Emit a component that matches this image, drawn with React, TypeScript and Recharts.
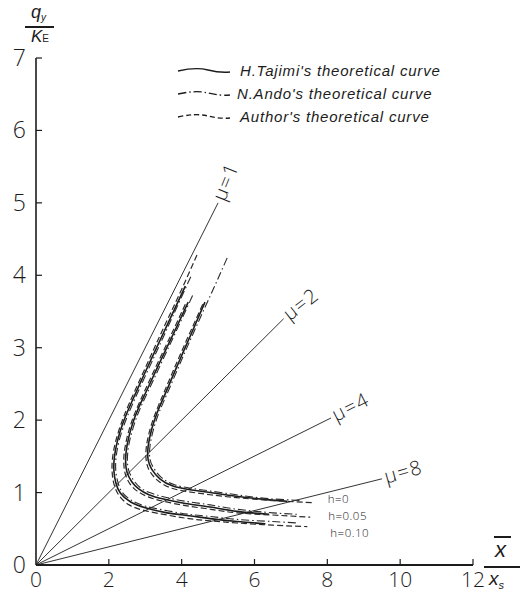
import React from 'react';
import { LineChart, Line, XAxis, YAxis } from 'recharts';

type Pt = { x: number; y: number };

const xTicks = [0, 2, 4, 6, 8, 10, 12];
const yTicks = [0, 1, 2, 3, 4, 5, 6, 7];

const muNames = ['μ=1', 'μ=2', 'μ=4', 'μ=8'];
const mu1 = [[0, 0], [5.0, 5.0]];
const mu2 = [[0, 0], [6.8, 3.4]];
const mu4 = [[0, 0], [8.1, 2.03]];
const mu8 = [[0, 0], [9.5, 1.19]];

const hNames = ['h=0', 'h=0.05', 'h=0.10'];
const seriesNames = ["H.Tajimi's theoretical curve", "N.Ando's theoretical curve", "Author's theoretical curve"];

// h = 0
const tajimiH0 = [[4.64, 3.63], [4.27, 3.2], [3.92, 2.8], [3.58, 2.4], [3.34, 2.12], [3.18, 1.88], [3.08, 1.64], [3.08, 1.45], [3.18, 1.32], [3.4, 1.19], [3.76, 1.09], [4.23, 1.04], [4.78, 1.0], [5.5, 0.95], [6.2, 0.91], [6.9, 0.88]];
const andoH0 = [[5.25, 4.24], [4.95, 3.9], [4.66, 3.58], [4.32, 3.2], [3.97, 2.8], [3.63, 2.4], [3.39, 2.12], [3.23, 1.88], [3.13, 1.64], [3.13, 1.46], [3.23, 1.34], [3.44, 1.21], [3.79, 1.11], [4.25, 1.06], [4.8, 1.02], [5.5, 0.97], [6.3, 0.92], [7.3, 0.89]];
const authorH0 = [[4.58, 3.6], [4.22, 3.2], [3.87, 2.8], [3.53, 2.4], [3.29, 2.11], [3.13, 1.87], [3.03, 1.63], [3.03, 1.43], [3.13, 1.29], [3.36, 1.16], [3.73, 1.06], [4.2, 1.01], [4.78, 0.97], [5.5, 0.93], [6.5, 0.89], [7.6, 0.86]];

// h = 0.05
const tajimiH05 = [[4.18, 3.63], [3.8, 3.22], [3.42, 2.82], [3.05, 2.42], [2.8, 2.15], [2.62, 1.9], [2.5, 1.65], [2.46, 1.45], [2.5, 1.28], [2.63, 1.15], [2.82, 1.05], [3.1, 0.97], [3.5, 0.91], [4.1, 0.85], [4.78, 0.8], [5.52, 0.74], [6.4, 0.7]];
const andoH05 = [[4.3, 3.72], [3.86, 3.24], [3.47, 2.82], [3.1, 2.42], [2.85, 2.15], [2.67, 1.9], [2.55, 1.66], [2.51, 1.46], [2.55, 1.3], [2.68, 1.17], [2.86, 1.07], [3.12, 1.0], [3.52, 0.94], [4.1, 0.88], [4.78, 0.83], [5.52, 0.77], [6.5, 0.72], [7.2, 0.7]];
const authorH05 = [[4.1, 3.6], [3.75, 3.22], [3.37, 2.82], [3.0, 2.42], [2.75, 2.14], [2.57, 1.89], [2.45, 1.64], [2.41, 1.44], [2.45, 1.26], [2.58, 1.12], [2.78, 1.02], [3.08, 0.94], [3.5, 0.88], [4.1, 0.82], [4.78, 0.77], [5.52, 0.72], [6.5, 0.69], [7.53, 0.66]];

// h = 0.10
const tajimiH10 = [[4.1, 3.85], [3.7, 3.42], [3.33, 3.02], [2.96, 2.62], [2.6, 2.22], [2.38, 1.95], [2.23, 1.7], [2.15, 1.48], [2.14, 1.3], [2.19, 1.14], [2.32, 0.99], [2.6, 0.87], [3.0, 0.79], [3.6, 0.72], [4.2, 0.68], [4.78, 0.64], [5.52, 0.6], [6.3, 0.57]];
const andoH10 = [[4.25, 3.98], [3.76, 3.44], [3.38, 3.02], [3.01, 2.62], [2.65, 2.22], [2.43, 1.95], [2.28, 1.71], [2.2, 1.49], [2.19, 1.31], [2.24, 1.16], [2.36, 1.01], [2.63, 0.89], [3.02, 0.81], [3.6, 0.75], [4.2, 0.7], [4.78, 0.67], [5.52, 0.63], [6.5, 0.6], [7.2, 0.58]];
const authorH10 = [[4.42, 4.28], [4.03, 3.84], [3.64, 3.42], [3.27, 3.02], [2.91, 2.62], [2.55, 2.22], [2.33, 1.94], [2.18, 1.69], [2.1, 1.47], [2.09, 1.29], [2.14, 1.12], [2.28, 0.96], [2.56, 0.83], [3.0, 0.75], [3.6, 0.69], [4.2, 0.64], [4.78, 0.61], [5.52, 0.58], [6.5, 0.55], [7.45, 0.53]];

const toPts = (a: number[][]): Pt[] => a.map(([x, y]) => ({ x, y }));

const INK = '#1c1c1c';
const TICK_FONT = "'Open Sans', 'DejaVu Sans', sans-serif";
const HAND_FONT = "'Liberation Sans', 'DejaVu Sans', sans-serif";

const XTick = (props: any) => {
  const { x, y, payload } = props;
  return (
    <g>
      {payload.value !== 0 && <line x1={x} y1={y} x2={x} y2={y - 6} stroke={INK} strokeWidth={1.2} />}
      <text x={x} y={y + 22} textAnchor="middle" fontFamily={TICK_FONT} fontWeight={300} fontSize={21} fill={INK}>
        {payload.value}
      </text>
    </g>
  );
};

const YTick = (props: any) => {
  const { x, y, payload } = props;
  return (
    <g>
      {payload.value !== 0 && <line x1={x} y1={y} x2={x + 6} y2={y} stroke={INK} strokeWidth={1.2} />}
      <text x={x - 10} y={y + 8} textAnchor="end" fontFamily={TICK_FONT} fontWeight={300} fontSize={23} fill={INK}>
        {payload.value}
      </text>
    </g>
  );
};

const endLabel = (text: string, lastIndex: number, angle: number, dx: number, dy: number, size: number, spacing: number) =>
  (props: any) => {
    const idx = props.index;
    const x = props.x ?? props.viewBox?.x;
    const y = props.y ?? props.viewBox?.y;
    if (idx !== lastIndex || x == null || y == null) return <g />;
    return (
      <text
        x={x + dx}
        y={y + dy}
        transform={angle ? `rotate(${angle} ${x} ${y})` : undefined}
        fontFamily={TICK_FONT}
        fontWeight={300}
        fontSize={size}
        letterSpacing={spacing}
        fill={INK}
      >
        {text}
      </text>
    );
  };

const muSeries = [
  { d: mu1, name: muNames[0], angle: -68 },
  { d: mu2, name: muNames[1], angle: -38 },
  { d: mu4, name: muNames[2], angle: -27 },
  { d: mu8, name: muNames[3], angle: -16 },
];

const solid = { stroke: INK, strokeWidth: 1.6 };
const dashDot = { stroke: '#2a2a2a', strokeWidth: 1.1, strokeDasharray: '8 3 1.5 3' };
const dashed = { stroke: '#2a2a2a', strokeWidth: 1.2, strokeDasharray: '6 3' };

const curveSeries = [
  { d: tajimiH0, s: solid },
  { d: andoH0, s: dashDot },
  { d: tajimiH05, s: solid },
  { d: andoH05, s: dashDot },
  { d: tajimiH10, s: solid },
  { d: andoH10, s: dashDot },
];

const authorSeries = [
  { d: authorH0, name: hNames[0], dx: 15, dy: 0 },
  { d: authorH05, name: hNames[1], dx: 18, dy: 3 },
  { d: authorH10, name: hNames[2], dx: 23, dy: 10 },
];

const LegendRow = ({ top, dash, label, textLeft }: { top: number; dash?: string; label: string; textLeft: number }) => (
  <div style={{ position: 'absolute', left: 176, top: top - 10, height: 20, width: 330 }}>
    <svg width={56} height={20} style={{ position: 'absolute', left: 0, top: 0 }}>
      <path d="M2 10 Q 20 6 32 9 T 54 11" fill="none" stroke={INK} strokeWidth={1.3} strokeDasharray={dash} />
    </svg>
    <span
      style={{
        position: 'absolute',
        left: textLeft - 176,
        top: 0,
        lineHeight: '20px',
        fontFamily: HAND_FONT,
        fontStyle: 'italic',
        fontSize: 15,
        letterSpacing: 0.8,
        color: INK,
        whiteSpace: 'nowrap',
      }}
    >
      {label}
    </span>
  </div>
);

export default function App() {
  return (
    <div style={{ position: 'fixed', left: 0, top: 0, width: 522, height: 594, background: '#fff', overflow: 'hidden' }}>
      <LineChart width={522} height={594} margin={{ top: 58, right: 49, bottom: 0, left: 0 }}>
        <XAxis
          type="number"
          dataKey="x"
          domain={[0, 12]}
          ticks={xTicks}
          allowDataOverflow
          height={29}
          tickSize={0}
          tickMargin={0}
          tickLine={false}
          axisLine={{ stroke: INK, strokeWidth: 2 }}
          tick={<XTick />}
          interval={0}
        />
        <YAxis
          type="number"
          dataKey="y"
          domain={[0, 7]}
          ticks={yTicks}
          allowDataOverflow
          width={36}
          tickSize={0}
          tickMargin={0}
          tickLine={false}
          axisLine={{ stroke: INK, strokeWidth: 1.6 }}
          tick={<YTick />}
          interval={0}
        />
        {muSeries.map((m) => (
          <Line
            key={m.name}
            data={toPts(m.d)}
            dataKey="y"
            type="linear"
            stroke="#333"
            strokeWidth={1}
            dot={false}
            activeDot={false}
            isAnimationActive={false}
            label={endLabel(m.name, m.d.length - 1, m.angle, 3, 6, 20, 1.5)}
          />
        ))}
        {curveSeries.map((c, i) => (
          <Line
            key={`c${i}`}
            data={toPts(c.d)}
            dataKey="y"
            type="natural"
            fill="none"
            {...c.s}
            dot={false}
            activeDot={false}
            isAnimationActive={false}
          />
        ))}
        {authorSeries.map((a) => (
          <Line
            key={a.name}
            data={toPts(a.d)}
            dataKey="y"
            type="natural"
            fill="none"
            {...dashed}
            dot={false}
            activeDot={false}
            isAnimationActive={false}
            label={endLabel(a.name, a.d.length - 1, 0, a.dx, a.dy, 11.5, 0.5)}
          />
        ))}
      </LineChart>

      {/* Legend */}
      <LegendRow top={71} label={seriesNames[0]} textLeft={240} />
      <LegendRow top={94} dash="8 3 1.5 3" label={seriesNames[1]} textLeft={237} />
      <LegendRow top={117} dash="5 3" label={seriesNames[2]} textLeft={240} />

      {/* Y axis title */}
      <div style={{ position: 'absolute', left: 31, top: 2, fontFamily: HAND_FONT, fontStyle: 'italic', fontSize: 18, color: INK, lineHeight: '20px' }}>
        q<span style={{ fontSize: 10, position: 'relative', top: 3 }}>y</span>
      </div>
      <div style={{ position: 'absolute', left: 25, top: 26, width: 29, height: 1.5, background: INK }} />
      <div style={{ position: 'absolute', left: 31, top: 28, fontFamily: HAND_FONT, fontStyle: 'italic', fontSize: 17, color: INK, lineHeight: '18px' }}>
        K<span style={{ fontSize: 10, fontStyle: 'normal' }}>E</span>
      </div>

      {/* X axis title */}
      <div style={{ position: 'absolute', left: 494, top: 536, width: 17, height: 1.5, background: INK }} />
      <div style={{ position: 'absolute', left: 495, top: 539, fontFamily: HAND_FONT, fontStyle: 'italic', fontSize: 22, color: INK, lineHeight: '22px' }}>
        x
      </div>
      <div style={{ position: 'absolute', left: 484, top: 566, width: 36, height: 1.5, background: INK }} />
      <div style={{ position: 'absolute', left: 489, top: 569, fontFamily: HAND_FONT, fontStyle: 'italic', fontSize: 19, color: INK, lineHeight: '20px' }}>
        x<span style={{ fontSize: 11, position: 'relative', top: 4 }}>s</span>
      </div>
    </div>
  );
}
